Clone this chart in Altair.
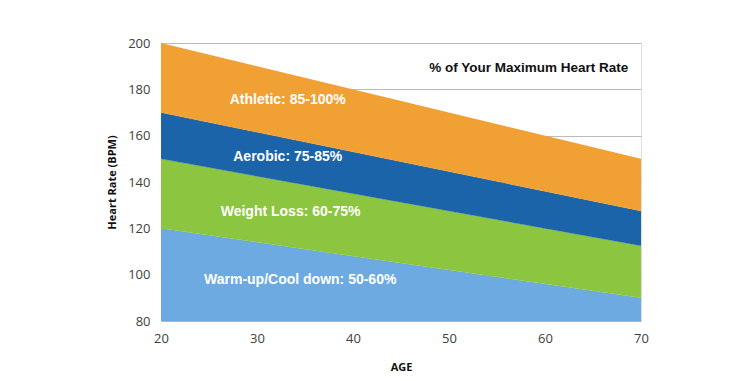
import altair as alt
import pandas as pd

ages = [20, 70]
bands = ["Warm-up", "Weight Loss", "Aerobic", "Athletic"]
lower = {
    "Warm-up": [80, 80],
    "Weight Loss": [120, 90],
    "Aerobic": [150, 112.5],
    "Athletic": [170, 127.5],
}
upper = {
    "Warm-up": [120, 90],
    "Weight Loss": [150, 112.5],
    "Aerobic": [170, 127.5],
    "Athletic": [200, 150],
}
colors = ["#6DAAE2", "#8CC53F", "#1C64A9", "#F1A134"]

labels = ["Athletic: 85-100%", "Aerobic: 75-85%", "Weight Loss: 60-75%", "Warm-up/Cool down: 50-60%"]
label_age = [33.2, 33.2, 33.5, 34.5]
label_hr = [175.2, 150.8, 127.1, 97.6]

rows = []
for b in bands:
    for i, a in enumerate(ages):
        rows.append({"band": b, "age": a, "lo": lower[b][i], "hi": upper[b][i]})
df = pd.DataFrame(rows)
lab = pd.DataFrame({"text": labels, "age": label_age, "hr": label_hr})

xs = alt.Scale(domain=[20, 70], nice=False, zero=False)
ys = alt.Scale(domain=[80, 200], nice=False, zero=False)

areas = alt.Chart(df).mark_area(opacity=1, line={"color": "#3a3a3a", "strokeWidth": 0.6, "strokeOpacity": 0.5}).encode(
    x=alt.X("age:Q", scale=xs, title="AGE",
            axis=alt.Axis(values=[20, 30, 40, 50, 60, 70], grid=False, ticks=False, domain=False,
                          labelFlush=False,
                          labelFont="Open Sans", labelFontSize=13, labelColor="#404040", labelPadding=11,
                          titleFont="Open Sans", titleFontSize=11, titleFontWeight="bold", titleColor="#111111",
                          titlePadding=16)),
    y=alt.Y("lo:Q", scale=ys, title="Heart Rate (BPM)",
            axis=alt.Axis(values=[80, 100, 120, 140, 160, 180, 200], gridColor="#BBBBBB", gridWidth=1,
                          ticks=False, domain=False, labelFlush=False,
                          labelFont="Open Sans", labelFontSize=13, labelColor="#404040", labelPadding=11,
                          titleFont="Open Sans", titleFontSize=11, titleFontWeight="bold", titleColor="#111111",
                          titlePadding=10)),
    y2="hi:Q",
    color=alt.Color("band:N", scale=alt.Scale(domain=bands, range=colors), legend=None),
    detail="band:N",
)

texts = alt.Chart(lab).mark_text(color="white", fontWeight="bold", font="Liberation Sans", fontSize=14).encode(
    x=alt.X("age:Q", scale=xs), y=alt.Y("hr:Q", scale=ys), text="text:N"
)

title = alt.Chart(pd.DataFrame({"t": ["% of Your Maximum Heart Rate"]})).mark_text(
    color="#111111", fontWeight="bold", font="Liberation Sans", fontSize=13.5, align="center"
).encode(x=alt.datum(58.3), y=alt.datum(189.2), text="t:N")

chart = alt.layer(areas, texts, title).properties(
    width=480, height=278,
    autosize=alt.AutoSizeParams(type="none"),
    padding={"left": 153, "top": 35, "right": 80, "bottom": 53},
).configure_view(stroke="#A0A0A0", strokeWidth=1).configure(background="white")

chart.save("out.html", embed_options={"renderer": "svg", "actions": False})
